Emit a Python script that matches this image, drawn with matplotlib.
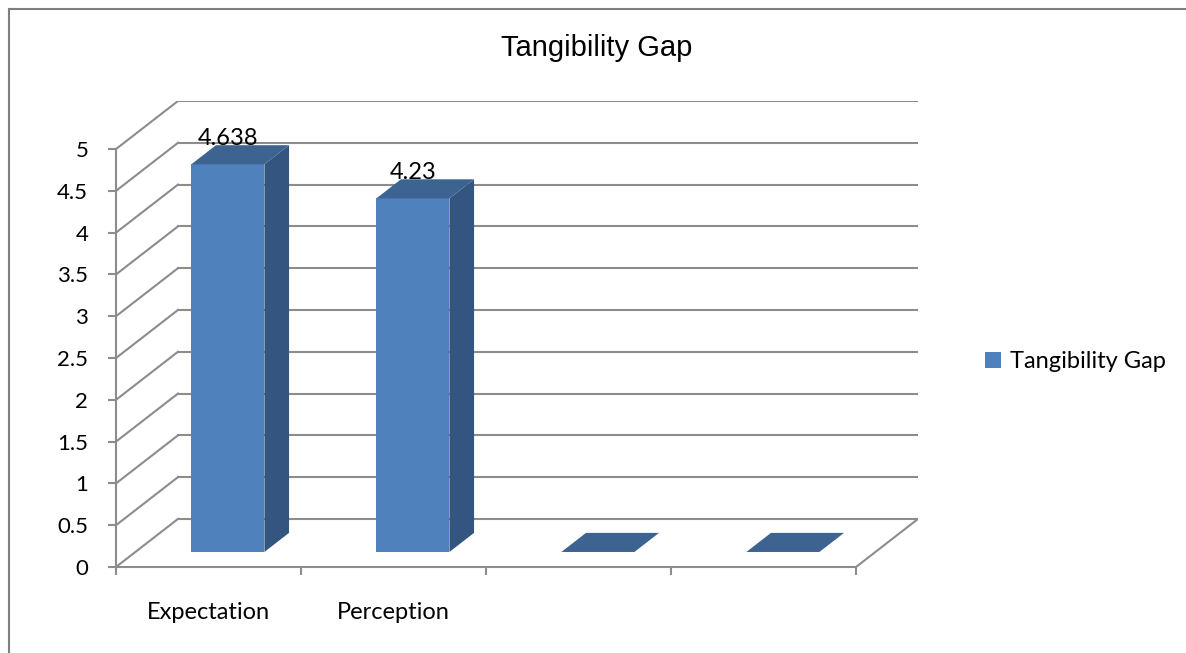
import matplotlib
matplotlib.use("Agg")
import matplotlib.pyplot as plt
from matplotlib.patches import Polygon, Patch
from matplotlib.lines import Line2D
import numpy as np

# Chart data
categories = ["Expectation", "Perception", "", ""]
values = [4.638, 4.23, 0, 0]
value_labels = ["4.638", "4.23", None, None]
series_name = "Tangibility Gap"
y_ticks = np.arange(0, 5.5, 0.5)
y_tick_labels = ["0", "0.5", "1", "1.5", "2", "2.5", "3", "3.5", "4", "4.5", "5"]

# Oblique depth of the 3D box, in data units (x: categories, y: values)
DX = 0.335
DY = 0.575
# Bars sit in a slab between these depth fractions
Z_FRONT = 0.3125
Z_BACK = 0.71
BAR_WIDTH = 0.395

FRONT = "#4F81BD"
SIDE = "#33557F"
TOP = "#3D6390"
GRID = "#8C8C8C"
LABEL_FONT = "Lato"


def depth(x, y, z):
    return (x + z * DX, y + z * DY)


def draw_bar(ax, center, value):
    x0 = center - BAR_WIDTH / 2
    x1 = center + BAR_WIDTH / 2
    zf, zb = Z_FRONT, Z_BACK
    top = [depth(x0, value, zf), depth(x1, value, zf),
           depth(x1, value, zb), depth(x0, value, zb)]
    if value > 0:
        front = [depth(x0, 0, zf), depth(x1, 0, zf),
                 depth(x1, value, zf), depth(x0, value, zf)]
        side = [depth(x1, 0, zf), depth(x1, 0, zb),
                depth(x1, value, zb), depth(x1, value, zf)]
        ax.add_patch(Polygon(front, closed=True, facecolor=FRONT, edgecolor="none", zorder=5))
        ax.add_patch(Polygon(side, closed=True, facecolor=SIDE, edgecolor="none", zorder=5))
    ax.add_patch(Polygon(top, closed=True, facecolor=TOP, edgecolor="none", zorder=5))


fig = plt.figure(figsize=(11.86, 6.53), dpi=100)
ax = fig.add_axes([116 / 1186, 86 / 653, 802 / 1186, 466 / 653])
n = len(categories)
ax.set_xlim(0, n + DX)
ax.set_ylim(0, y_ticks[-1] + DY)

# Back wall, side wall and floor grid
for v in y_ticks:
    ax.plot([DX, n + DX], [v + DY, v + DY], color=GRID, lw=1.5, zorder=1)
    ax.plot([0, DX], [v, v + DY], color=GRID, lw=1.5, zorder=1)
ax.plot([n, n + DX], [0, DY], color=GRID, lw=1.5, zorder=1)

# Front axes via spines
for side in ["top", "right"]:
    ax.spines[side].set_visible(False)
ax.spines["left"].set_bounds(0, y_ticks[-1])
ax.spines["bottom"].set_bounds(0, n)
for side in ["left", "bottom"]:
    ax.spines[side].set_color(GRID)
    ax.spines[side].set_linewidth(1.5)
    ax.spines[side].set_zorder(2)

ax.set_yticks(y_ticks)
ax.set_yticklabels(y_tick_labels, fontname=LABEL_FONT, fontsize=16)
ax.tick_params(axis="y", length=6, width=1.5, color=GRID, pad=14)
ax.set_xticks(np.arange(n + 1))
ax.set_xticklabels([])
ax.tick_params(axis="x", which="major", length=6, width=1.5, color=GRID)
ax.set_xticks(np.arange(n) + 0.5, minor=True)
ax.set_xticklabels(categories, minor=True, fontname=LABEL_FONT, fontsize=17)
ax.tick_params(axis="x", which="minor", length=0, pad=25)

# Bars and value labels
for i, v in enumerate(values):
    draw_bar(ax, i + 0.5, v)
    if value_labels[i]:
        x, y = depth(i + 0.5, v, Z_FRONT)
        ax.text(x, v + Z_BACK * DY, value_labels[i], ha="center", va="baseline",
                fontname=LABEL_FONT, fontsize=17, zorder=6)

fig.text(597 / 1186, 1 - 56 / 653, "Tangibility Gap", ha="center", va="baseline",
         fontname="Liberation Sans", fontsize=21)

fig.legend(handles=[Patch(facecolor=FRONT, label=series_name)], loc="center left",
           bbox_to_anchor=(964 / 1186, 1 - 362 / 653), frameon=False,
           prop={"family": LABEL_FONT, "size": 17}, handlelength=0.65, handleheight=0.65,
           handletextpad=0.4)

# Outer chart frame (top and left edges)
fig.add_artist(Line2D([9 / 1186, 1], [1 - 9 / 653, 1 - 9 / 653], color="#7F7F7F", lw=1.5))
fig.add_artist(Line2D([9 / 1186, 9 / 1186], [0, 1 - 9 / 653], color="#7F7F7F", lw=1.5))

fig.savefig("out.png", dpi=100)
